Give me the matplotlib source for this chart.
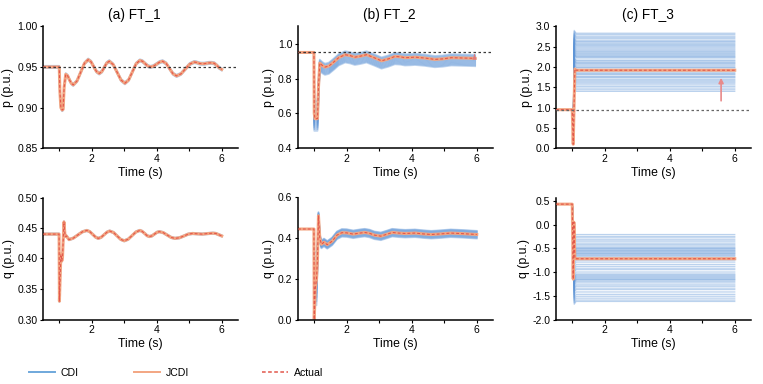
import matplotlib
matplotlib.use("Agg")
import matplotlib.pyplot as plt
from matplotlib.lines import Line2D
from matplotlib.ticker import MultipleLocator, FormatStrFormatter

plt.rcParams["font.family"] = ["Liberation Sans", "DejaVu Sans"]
plt.rcParams["axes.unicode_minus"] = False

CDI_C = "#5f95d6"
JCDI_C = "#f3a682"
ACT_C = "#e2574c"
REF_C = "#3a3a3a"

REF_P = 0.95  # pre-fault active power reference

# ---- FT_1 -------------------------------------------------------------
t_a_p = [0.5, 1.00, 1.02, 1.05, 1.09, 1.12, 1.15, 1.20, 1.26, 1.31, 1.37, 1.43,
         1.545, 1.66, 1.775, 1.89, 1.975, 2.06, 2.145, 2.23, 2.31, 2.385, 2.46,
         2.54, 2.66, 2.78, 2.90, 3.02, 3.135, 3.25, 3.365, 3.48, 3.56, 3.645,
         3.73, 3.81, 3.90, 3.995, 4.09, 4.18, 4.29, 4.395, 4.50, 4.61, 4.745,
         4.88, 5.015, 5.15, 5.21, 5.265, 5.32, 5.38, 5.46, 5.535, 5.61, 5.69,
         5.77, 5.845, 5.92, 6.0]
p_a = [0.950, 0.950, 0.920, 0.900, 0.897, 0.898, 0.925, 0.941, 0.939, 0.9345,
       0.930, 0.928, 0.9327, 0.9435, 0.9544, 0.959, 0.9565, 0.9505, 0.9445,
       0.942, 0.9443, 0.9495, 0.9548, 0.957, 0.953, 0.9435, 0.934, 0.930,
       0.934, 0.944, 0.954, 0.958, 0.957, 0.954, 0.951, 0.950, 0.951, 0.9535,
       0.956, 0.957, 0.9543, 0.948, 0.9417, 0.939, 0.9415, 0.9475, 0.9535,
       0.956, 0.9557, 0.955, 0.9543, 0.954, 0.954, 0.9545, 0.955, 0.955,
       0.9545, 0.952, 0.949, 0.947]

t_a_q = [0.5, 0.995, 1.005, 1.05, 1.08, 1.10, 1.145, 1.18, 1.22, 1.30, 1.43,
         1.57, 1.71, 1.85, 1.94, 2.03, 2.12, 2.20, 2.29, 2.38, 2.47, 2.55, 2.67,
         2.78, 2.89, 3.00, 3.12, 3.24, 3.36, 3.48, 3.55, 3.63, 3.70, 3.77, 3.85,
         3.93, 4.01, 4.08, 4.20, 4.32, 4.44, 4.56, 4.70, 4.84, 4.97, 5.10, 5.25,
         5.40, 5.55, 5.73, 5.82, 5.91, 6.0]
q_a = [0.440, 0.440, 0.330, 0.407, 0.396, 0.402, 0.460, 0.436, 0.437, 0.431,
       0.4333, 0.4385, 0.4437, 0.446, 0.444, 0.4395, 0.435, 0.433, 0.4348,
       0.439, 0.4432, 0.445, 0.4426, 0.437, 0.4314, 0.429, 0.4316, 0.4375,
       0.4435, 0.446, 0.4445, 0.441, 0.4375, 0.436, 0.437, 0.440, 0.443, 0.444,
       0.4424, 0.4385, 0.4346, 0.433, 0.434, 0.437, 0.440, 0.441, 0.4405,
       0.440, 0.4408, 0.4415, 0.441, 0.439, 0.437]

cdi_a_p_off = [-0.0015, 0.0, 0.0015]
cdi_a_q_off = [-0.0013, 0.0, 0.0013]

# ---- FT_2 -------------------------------------------------------------
t_b_p = [0.5, 0.99, 1.00, 1.02, 1.10, 1.13, 1.17, 1.25, 1.33, 1.45, 1.60, 1.75,
         1.95, 2.10, 2.25, 2.43, 2.61, 2.84, 3.07, 3.28, 3.48, 3.64, 3.79, 3.95,
         4.10, 4.40, 4.71, 4.95, 5.22, 5.60, 5.95]
p_b = [0.950, 0.950, 0.600, 0.570, 0.570, 0.750, 0.889, 0.875, 0.866, 0.872,
       0.895, 0.920, 0.937, 0.932, 0.923, 0.929, 0.937, 0.920, 0.902, 0.913,
       0.927, 0.925, 0.920, 0.921, 0.923, 0.918, 0.910, 0.913, 0.920, 0.918,
       0.916]
cdi_b_p_off = [-0.045, -0.04, -0.035, -0.03, -0.025, -0.02, -0.015, -0.01,
               -0.005, 0.0, 0.005, 0.01, 0.015, 0.02]
cdi_b_p_dip = [0.50, 0.51, 0.52, 0.53, 0.54, 0.55, 0.56, 0.58, 0.59, 0.60,
               0.62, 0.63, 0.65, 0.67]
cdi_b_p_dip_idx = [2, 3, 4]

t_b_q = [0.5, 0.99, 1.00, 1.03, 1.07, 1.10, 1.13, 1.17, 1.22, 1.30, 1.40, 1.55,
         1.70, 1.85, 2.00, 2.20, 2.40, 2.55, 2.70, 2.85, 3.05, 3.25, 3.40, 3.60,
         3.80, 4.10, 4.35, 4.60, 4.90, 5.20, 5.60, 6.00]
q_b = [0.445, 0.445, 0.000, 0.150, 0.200, 0.300, 0.510, 0.400, 0.370, 0.380,
       0.368, 0.385, 0.415, 0.427, 0.426, 0.420, 0.425, 0.428, 0.424, 0.415,
       0.410, 0.420, 0.428, 0.425, 0.423, 0.425, 0.421, 0.418, 0.421, 0.425,
       0.422, 0.418]
cdi_b_q_off = [-0.02, -0.017, -0.014, -0.011, -0.008, -0.005, -0.002, 0.001,
               0.004, 0.007, 0.01, 0.013, 0.016, 0.018]
cdi_b_q_dip = [0.07, 0.09, 0.11, 0.13, 0.15, 0.17, 0.19, 0.21, 0.23, 0.25,
               0.27, 0.29, 0.31, 0.33]
cdi_b_q_dip_idx = [2, 3, 4]

PRE_FAULT_PTS = 2  # samples before the fault, shared by every CDI member

# ---- FT_3 -------------------------------------------------------------
t_c_p = [0.5, 1.00, 1.03, 1.08, 1.12, 6.0]
p_c = [0.95, 0.95, 0.10, 1.95, 1.92, 1.92]
t_c_q = [0.5, 1.00, 1.03, 1.05, 1.08, 1.12, 6.0]
q_c = [0.43, 0.43, -1.15, 0.05, -0.72, -0.72, -0.72]

t_c_cdi = [0.5, 1.00, 1.03, 1.06, 1.12, 6.0]
cdi_c_p_levels = [2.83, 2.80, 2.76, 2.73, 2.70, 2.66, 2.63, 2.61, 2.58, 2.55,
                  2.53, 2.50, 2.47, 2.44, 2.41, 2.38, 2.36, 2.33, 2.31, 2.28,
                  2.26, 2.24, 2.22, 2.17, 2.15, 2.12, 2.10, 2.08, 2.05, 2.02,
                  1.99, 1.975, 1.88, 1.85, 1.83, 1.81, 1.77, 1.75, 1.73, 1.69,
                  1.66, 1.63, 1.60, 1.56, 1.52, 1.48, 1.44, 1.40]
cdi_c_q_levels = [-0.21, -0.25, -0.28, -0.32, -0.35, -0.39, -0.42, -0.45, -0.48,
                  -0.50, -0.51, -0.53, -0.55, -0.56, -0.58, -0.60, -0.61, -0.63,
                  -0.65, -0.67, -0.70, -0.75, -0.79, -0.84, -0.88, -0.92, -0.95,
                  -1.00, -1.04, -1.06, -1.08, -1.10, -1.12, -1.14, -1.16, -1.17,
                  -1.20, -1.23, -1.27, -1.30, -1.34, -1.37, -1.42, -1.47, -1.51,
                  -1.55, -1.59, -1.62]
cdi_c_p_pre, cdi_c_p_spike, cdi_c_p_kick = 0.95, 0.30, 0.07
cdi_c_q_pre, cdi_c_q_spike, cdi_c_q_kick = 0.43, 0.10, -0.06

TITLES = ["(a) FT_1", "(b) FT_2", "(c) FT_3"]


def offset_members(vals, offsets, dip_idx=(), dip_levels=None, pre=PRE_FAULT_PTS):
    out = []
    for i, off in enumerate(offsets):
        m = [v if k < pre else v + off for k, v in enumerate(vals)]
        if dip_levels is not None:
            for j in dip_idx:
                m[j] = dip_levels[i]
        out.append(m)
    return out


def step_members(levels, pre, spike, kick):
    return [[pre, pre, spike, lv + kick, lv, lv] for lv in levels]


def style(ax, ylim, ystep, fmt, ylabel):
    ax.set_xlim(0.5, 6.5)
    ax.set_ylim(*ylim)
    ax.xaxis.set_major_locator(MultipleLocator(2))
    ax.xaxis.set_minor_locator(MultipleLocator(1))
    ax.yaxis.set_major_locator(MultipleLocator(ystep))
    ax.yaxis.set_major_formatter(FormatStrFormatter(fmt))
    for s in ("top", "right"):
        ax.spines[s].set_visible(False)
    for s in ("left", "bottom"):
        ax.spines[s].set_linewidth(1.1)
    ax.tick_params(which="major", length=2.5, width=0.8, labelsize=7.5, pad=1.5)
    ax.tick_params(which="minor", length=2.0, width=0.8)
    ax.tick_params(axis="y", which="minor", length=0)
    ax.set_xlabel("Time (s)", fontsize=8.8, labelpad=2)
    ax.set_ylabel(ylabel, fontsize=8.8, labelpad=2)


def draw(ax, t, actual, t_cdi, members, cdi_lw, cdi_alpha, ref=None, ref_c=REF_C):
    for m in members:
        ax.plot(t_cdi, m, color=CDI_C, lw=cdi_lw, alpha=cdi_alpha, zorder=1,
                solid_joinstyle="round")
    ax.plot(t, actual, color=JCDI_C, lw=2.2, zorder=2)
    ax.plot(t, actual, color=ACT_C, lw=0.8, ls=(0, (2.6, 1.8)), zorder=3)
    if ref is not None:
        ax.axhline(ref, color=ref_c, lw=0.9, ls=(0, (2, 2)), zorder=4)


def main():
    fig = plt.figure(figsize=(7.63, 3.84), dpi=100)
    W, H = 763.0, 384.0
    lefts = [43, 298, 556]
    w = 195 / W
    h = 122 / H
    top_bottom = (H - 148.3) / H
    bot_bottom = (H - 319.5) / H
    axp = [fig.add_axes([x / W, top_bottom, w, h]) for x in lefts]
    axq = [fig.add_axes([x / W, bot_bottom, w, h]) for x in lefts]

    # FT_1
    draw(axp[0], t_a_p, p_a, t_a_p, offset_members(p_a, cdi_a_p_off, pre=0),
         1.2, 0.5, ref=REF_P)
    draw(axq[0], t_a_q, q_a, t_a_q, offset_members(q_a, cdi_a_q_off, pre=0),
         1.2, 0.5)
    style(axp[0], (0.85, 1.00), 0.05, "%.2f", "p (p.u.)")
    style(axq[0], (0.30, 0.50), 0.05, "%.2f", "q (p.u.)")

    # FT_2
    draw(axp[1], t_b_p, p_b, t_b_p,
         offset_members(p_b, cdi_b_p_off, cdi_b_p_dip_idx, cdi_b_p_dip), 1.3, 0.4,
         ref=REF_P)
    draw(axq[1], t_b_q, q_b, t_b_q,
         offset_members(q_b, cdi_b_q_off, cdi_b_q_dip_idx, cdi_b_q_dip), 1.3, 0.4)
    axp[1].annotate("", xy=(5.93, 0.952), xytext=(5.93, 0.918),
                    arrowprops=dict(arrowstyle="-|>", color="#e07a7a", lw=0.9,
                                    mutation_scale=5), zorder=5)
    style(axp[1], (0.4, 1.1), 0.2, "%.1f", "p (p.u.)")
    style(axq[1], (0.0, 0.6), 0.2, "%.1f", "q (p.u.)")

    # FT_3
    draw(axp[2], t_c_p, p_c, t_c_cdi,
         step_members(cdi_c_p_levels, cdi_c_p_pre, cdi_c_p_spike, cdi_c_p_kick),
         0.9, 0.42, ref=REF_P, ref_c="#666666")
    draw(axq[2], t_c_q, q_c, t_c_cdi,
         step_members(cdi_c_q_levels, cdi_c_q_pre, cdi_c_q_spike, cdi_c_q_kick),
         0.9, 0.42)
    axp[2].annotate("", xy=(5.58, 1.80), xytext=(5.58, 1.10),
                    arrowprops=dict(arrowstyle="-|>", color="#e88a8a", lw=1.2,
                                    mutation_scale=7), zorder=5)
    style(axp[2], (0.0, 3.0), 0.5, "%.1f", "p (p.u.)")
    style(axq[2], (-2.0, 0.57), 0.5, "%.1f", "q (p.u.)")

    for ax, title in zip(axp, TITLES):
        ax.set_title(title, fontsize=9.8, pad=5, x=0.47)

    handles = [
        Line2D([], [], color="#6fa8dc", lw=1.4, label="CDI"),
        Line2D([], [], color=JCDI_C, lw=1.4, label="JCDI"),
        Line2D([], [], color=ACT_C, lw=1.1, ls=(0, (2.4, 1.6)), label="Actual"),
    ]
    ly = (H - 372.5) / H
    for hnd, x in zip(handles, [29, 134, 262]):
        fig.legend(handles=[hnd], loc="center left", bbox_to_anchor=(x / W, ly),
                   frameon=False, fontsize=7.6, handlelength=2.5,
                   handletextpad=0.5, borderpad=0, borderaxespad=0)

    fig.savefig("out.png", dpi=100)


if __name__ == "__main__":
    main()
